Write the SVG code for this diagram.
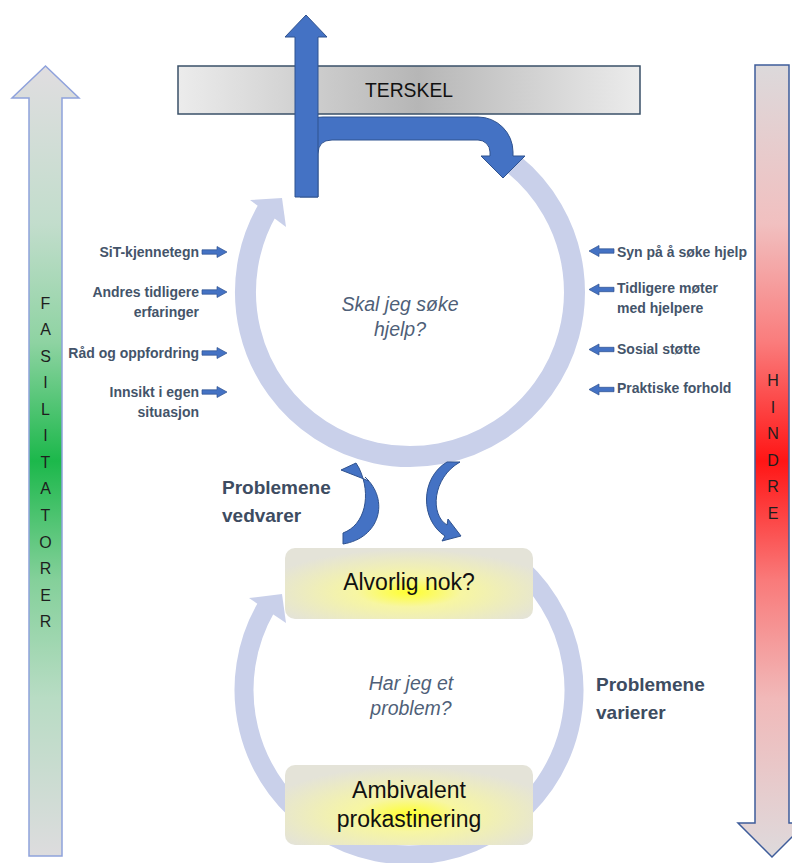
<svg xmlns="http://www.w3.org/2000/svg" width="792" height="863" viewBox="0 0 792 863">
<defs>
<style>
.lbl{font-family:"Liberation Sans",Arial,sans-serif;font-weight:bold;font-size:14px;fill:#44546a}
.big{font-family:"Liberation Sans",Arial,sans-serif;font-weight:bold;font-size:19px;fill:#3d4c61}
.q{font-family:"Liberation Sans",Arial,sans-serif;font-style:italic;font-size:19.5px;fill:#4f5f78;text-anchor:middle}
.box{font-family:"Liberation Sans",Arial,sans-serif;font-size:23px;fill:#111;text-anchor:middle}
.let{font-family:"Liberation Sans",Arial,sans-serif;font-size:16px;fill:#1e1e1e;text-anchor:middle}
.ring{fill:none;stroke:#c9d0ea;stroke-linecap:butt}
.blue{fill:#4472c4;stroke:#2f528f;stroke-width:1}
.sa{fill:#4472c4;stroke:#2f528f;stroke-width:0.7}
</style>
<linearGradient id="gGreen" gradientUnits="userSpaceOnUse" x1="0" y1="66" x2="0" y2="856">
<stop offset="0" stop-color="#e0dde0"/>
<stop offset="0.2" stop-color="#c2ddcc"/>
<stop offset="0.35" stop-color="#8ed3a2"/>
<stop offset="0.5" stop-color="#1cb84b"/>
<stop offset="0.65" stop-color="#84d09a"/>
<stop offset="0.8" stop-color="#b8dcc4"/>
<stop offset="1" stop-color="#dddcde"/>
</linearGradient>
<linearGradient id="gRed" gradientUnits="userSpaceOnUse" x1="0" y1="65" x2="0" y2="857">
<stop offset="0" stop-color="#dcd9db"/>
<stop offset="0.2" stop-color="#f1c0c0"/>
<stop offset="0.35" stop-color="#fa7c7c"/>
<stop offset="0.5" stop-color="#ff1515"/>
<stop offset="0.65" stop-color="#f97a7a"/>
<stop offset="0.8" stop-color="#f1b9b9"/>
<stop offset="1" stop-color="#dedadc"/>
</linearGradient>
<linearGradient id="gBar" gradientUnits="userSpaceOnUse" x1="178" y1="0" x2="640" y2="0">
<stop offset="0" stop-color="#ececec"/>
<stop offset="0.52" stop-color="#b6b6b6"/>
<stop offset="1" stop-color="#ececec"/>
</linearGradient>
<radialGradient id="gBox" cx="50%" cy="62%" r="60%">
<stop offset="0" stop-color="#ffff2e"/>
<stop offset="0.35" stop-color="#f7f6a2"/>
<stop offset="1" stop-color="#e4e3d8"/>
</radialGradient>
<path id="sArrow" d="M0,-2.2 H15 V-5.5 L25,0 L15,5.5 V2.2 H0 Z"/>
</defs>

<rect width="792" height="863" fill="#ffffff"/>

<g id="fasilitatorer">
<path d="M29,856 V98 H12 L45.5,66 L79,98 H62 V856 Z" fill="url(#gGreen)" stroke="#8fa2dc" stroke-width="1.5"/>
<text class="let" x="45.5" y="308.5">F</text>
<text class="let" x="45.5" y="335">A</text>
<text class="let" x="45.5" y="361.6">S</text>
<text class="let" x="45.5" y="388.2">I</text>
<text class="let" x="45.5" y="414.7">L</text>
<text class="let" x="45.5" y="441.3">I</text>
<text class="let" x="45.5" y="467.8">T</text>
<text class="let" x="45.5" y="494.4">A</text>
<text class="let" x="45.5" y="520.9">T</text>
<text class="let" x="45.5" y="547.5">O</text>
<text class="let" x="45.5" y="574">R</text>
<text class="let" x="45.5" y="600.6">E</text>
<text class="let" x="45.5" y="627.1">R</text>
</g>

<g id="hindre">
<path d="M755,65 H789 V823 H806 L772,857 L738,823 H755 Z" fill="url(#gRed)" stroke="#3e5c9a" stroke-width="1.5"/>
<text class="let" x="773" y="386.3">H</text>
<text class="let" x="773" y="412.8">I</text>
<text class="let" x="773" y="439.3">N</text>
<text class="let" x="773" y="465.8">D</text>
<text class="let" x="773" y="492.3">R</text>
<text class="let" x="773" y="518.8">E</text>
</g>

<g id="terskel">
<rect x="178" y="66" width="462" height="48" fill="url(#gBar)" stroke="#3a5068" stroke-width="1.5"/>
<text x="409" y="97" font-family="Liberation Sans, Arial, sans-serif" font-size="21" fill="#111" text-anchor="middle" textLength="88" lengthAdjust="spacingAndGlyphs">TERSKEL</text>
</g>

<g id="circle-top">
<path class="ring" stroke-width="21" d="M513.5,164.2 A164.5,164.5 0 1 1 267.5,209.8"/>
<polygon points="250,200 282,198 286,227" fill="#c9d0ea"/>
<text class="q" x="400" y="311">Skal jeg søke</text>
<text class="q" x="400" y="336">hjelp?</text>
</g>

<g id="circle-bottom">
<path class="ring" stroke-width="19" d="M508.3,558.2 A165,165 0 1 1 266.1,607.5"/>
<polygon points="249,598 282,594 286,623" fill="#c9d0ea"/>
<text class="q" x="411" y="690">Har jeg et</text>
<text class="q" x="411" y="715">problem?</text>
</g>

<g id="box-alvorlig">
<rect x="285" y="548" width="248" height="71" rx="10" fill="url(#gBox)"/>
<text class="box" x="409" y="590">Alvorlig nok?</text>
</g>

<g id="box-ambivalent">
<rect x="285" y="765" width="248" height="80" rx="10" fill="url(#gBox)"/>
<text class="box" x="409" y="798">Ambivalent</text>
<text class="box" x="409" y="827">prokastinering</text>
</g>

<g id="labels-left">
<text class="lbl" x="199" y="257" text-anchor="end">SiT-kjennetegn</text>
<text class="lbl" x="199" y="297" text-anchor="end">Andres tidligere</text>
<text class="lbl" x="199" y="317" text-anchor="end">erfaringer</text>
<text class="lbl" x="199" y="358" text-anchor="end">Råd og oppfordring</text>
<text class="lbl" x="199" y="397" text-anchor="end">Innsikt i egen</text>
<text class="lbl" x="199" y="417" text-anchor="end">situasjon</text>
</g>

<g id="labels-right">
<text class="lbl" x="617" y="257">Syn på å søke hjelp</text>
<text class="lbl" x="617" y="293">Tidligere møter</text>
<text class="lbl" x="617" y="313">med hjelpere</text>
<text class="lbl" x="617" y="354">Sosial støtte</text>
<text class="lbl" x="617" y="393">Praktiske forhold</text>
</g>

<g id="label-vedvarer">
<text class="big" x="222" y="494">Problemene</text>
<text class="big" x="222" y="522">vedvarer</text>
</g>

<g id="label-varierer">
<text class="big" x="596" y="691">Problemene</text>
<text class="big" x="596" y="719">varierer</text>
</g>

<g id="connectors">
<path class="blue" d="M300,197 V140 Q300,117 323,117 H478 A35,35 0 0 1 513,152 V156 H525 L503,178 L481,156 H490 V152 A12,12 0 0 0 478,140 H332 Q318,140 318,154 V197 Z"/>
<path class="blue" d="M295,197 V37 H285 L306,15 L327,37 H318 V197 Z"/>
<path class="blue" d="M343,533 C365,525 372,495 359,468 L356,463 L341,470 L369,481 L365,477 C390,500 380,538 343,544 Z"/>
<path class="blue" d="M460,462 C432,478 430,515 447,525 L448,519 L461,536 L442,541 L445,536 C420,520 420,478 447,462 Z"/>
<use href="#sArrow" class="sa" transform="translate(202,252)"/>
<use href="#sArrow" class="sa" transform="translate(202,292)"/>
<use href="#sArrow" class="sa" transform="translate(202,353)"/>
<use href="#sArrow" class="sa" transform="translate(202,392)"/>
<use href="#sArrow" class="sa" transform="translate(614,251) scale(-1,1)"/>
<use href="#sArrow" class="sa" transform="translate(614,289.5) scale(-1,1)"/>
<use href="#sArrow" class="sa" transform="translate(614,349.5) scale(-1,1)"/>
<use href="#sArrow" class="sa" transform="translate(614,389.5) scale(-1,1)"/>
</g>
</svg>
